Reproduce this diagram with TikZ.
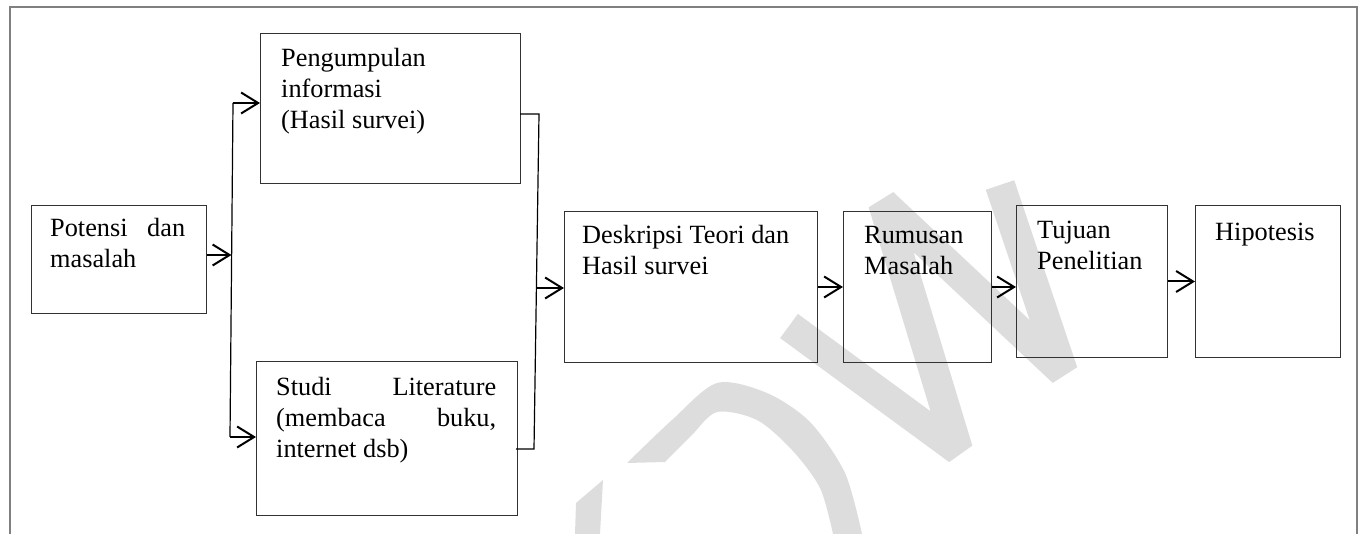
\documentclass[tikz,border=0pt]{standalone}
\usepackage{fontspec}
\setmainfont{Liberation Serif}
\usetikzlibrary{arrows.meta}
\definecolor{boxline}{RGB}{50,50,50}
\definecolor{frameline}{RGB}{128,128,128}
\definecolor{wm}{RGB}{221,221,221}
\tikzset{
  stepbox/.style={draw=boxline, line width=1pt, rectangle, inner sep=0pt},
  txt/.style={anchor=base west, inner sep=0pt, font=\fontsize{26.3}{31}\selectfont},
  arr/.style={draw=black, line width=2pt, -{Straight Barb[length=17pt,width=21pt]}},
  bus/.style={draw=black, line width=1.2pt},
}
\newcommand{\ml}[1]{\begin{tabular}[t]{@{}l@{}}#1\end{tabular}}
\begin{document}
\begin{tikzpicture}[x=1pt,y=-1pt]
\useasboundingbox (0,0) rectangle (1359,534);
% watermark
\fill[wm] (576,503) -- (603,480) -- (600,534) -- (575,534) -- cycle;
\fill[wm] plot[smooth] coordinates {(627,463) (672,420) (717,383) (767,393) (810,422) (845,473) (862,534)}
  -- plot[smooth] coordinates {(833,534) (820,488) (792,450) (757,420) (717,412) (691,436) (665,462)} -- cycle;
\draw[wm, line width=30pt, line join=bevel] (789,326) -- (958,450) -- (883,203) -- (1063,372) -- (1000,185);
% frame
\draw[frameline, line width=1.3pt] (10,540) -- (10,7) -- (1357,7) -- (1357,540);
% boxes
\node[stepbox, minimum width=175pt, minimum height=108pt, anchor=north west] (potensi) at (31,205) {};
\node[stepbox, minimum width=260pt, minimum height=150pt, anchor=north west] (peng) at (260,33) {};
\node[stepbox, minimum width=261pt, minimum height=154pt, anchor=north west] (studi) at (256,361) {};
\node[stepbox, minimum width=253pt, minimum height=151pt, anchor=north west] (desk) at (564,211) {};
\node[stepbox, minimum width=148pt, minimum height=151pt, anchor=north west] (rumus) at (843,211) {};
\node[stepbox, minimum width=151pt, minimum height=152pt, anchor=north west] (tujuan) at (1016,205) {};
\node[stepbox, minimum width=145pt, minimum height=152pt, anchor=north west] (hipo) at (1195,205) {};
% texts
\node[txt] (potensiT) at (50,237) {\ml{\makebox[135pt][s]{Potensi dan}\\ masalah}};
\node[txt] (pengT) at (281,67) {\ml{Pengumpulan\\ informasi\\ (Hasil survei)}};
\node[txt] (studiT) at (276,395) {\ml{\makebox[220pt][s]{Studi Literature}\\ \makebox[220pt][s]{(membaca buku,}\\ internet dsb)}};
\node[txt] (deskT) at (582,244) {\ml{Deskripsi Teori dan\\ Hasil survei}};
\node[txt] (rumusT) at (864,244) {\ml{Rumusan\\ Masalah}};
\node[txt] (tujuanT) at (1037,239) {\ml{Tujuan\\ Penelitian}};
\node[txt] (hipoT) at (1215,241) {Hipotesis};
% left bus
\coordinate (bT) at (233,103);
\coordinate (bM) at (231.5,255);
\coordinate (bB) at (230,437);
\draw[bus] (bT) -- (bB);
\draw[arr] (potensi.east |- bM) -- (bM);
\draw[arr] (bT) -- (peng.west |- bT);
\draw[arr] (bB) -- (studi.west |- bB);
% right bus
\coordinate (rT) at (539,114);
\coordinate (rB) at (534,449);
\coordinate (rM) at (536.4,288);
\draw[bus] ([xshift=-1pt]peng.east |- rT) -- (rT) -- (rB) -- ([xshift=-2pt]studi.east |- rB);
\draw[arr] (rM) -- (desk.west |- rM);
\draw[arr] (desk.east) -- (rumus.west);
\draw[arr] (rumus.east) -- (tujuan.west |- rumus.east);
\draw[arr] (tujuan.east) -- (hipo.west);
\end{tikzpicture}
\end{document}
